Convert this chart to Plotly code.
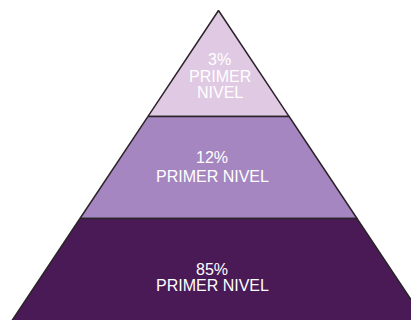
import plotly.graph_objects as go

# ---- data ----
tiers = ["Nivel superior", "Nivel medio", "Nivel base"]       # top -> bottom
percent_labels = ["3%", "12%", "85%"]
level_names = [["PRIMER", "NIVEL"], ["PRIMER NIVEL"], ["PRIMER NIVEL"]]

# ---- style / layout (not data) ----
tier_colors = ["#E0CAE3", "#A586C0", "#4A1A57"]
outline_color = "#2A2328"
edges = [3.0, 1.98, 1.0, 0.0]          # tier boundaries in pyramid units (apex=3, base=0)
APEX = 3.0
label_x = [0.007, -0.031, -0.031]
label_y_lines = [[2.533, 2.370, 2.211], [1.586, 1.401], [0.509, 0.351]]

def half_width(y):
    return (APEX - y) / APEX

fig = go.Figure()
for i, name in enumerate(tiers):
    top, bot = edges[i], edges[i + 1]
    xs = [-half_width(top), half_width(top), half_width(bot), -half_width(bot), -half_width(top)]
    ys = [top, top, bot, bot, top]
    fig.add_trace(go.Scatter(
        x=xs, y=ys, mode="lines", fill="toself", fillcolor=tier_colors[i],
        line=dict(color=outline_color, width=1.5), hoverinfo="skip",
        showlegend=False, name=name))

for i in range(len(tiers)):
    lines = [percent_labels[i]] + level_names[i]
    for txt, yy in zip(lines, label_y_lines[i]):
        fig.add_annotation(x=label_x[i], y=yy, text=txt, showarrow=False,
                           xanchor="center", yanchor="middle",
                           font=dict(family="Liberation Sans, Arial", size=16, color="white"))

# page body has an 8px margin, so the figure is sized to fill the rest of the window
fig.update_layout(
    width=411, height=312, margin=dict(l=0, r=0, t=0, b=0),
    paper_bgcolor="white", plot_bgcolor="white",
    xaxis=dict(range=[-1.0130, 0.9649], visible=False, fixedrange=True),
    yaxis=dict(range=[0.024, 3.024], visible=False, fixedrange=True),
)
fig.write_html("out.html")
